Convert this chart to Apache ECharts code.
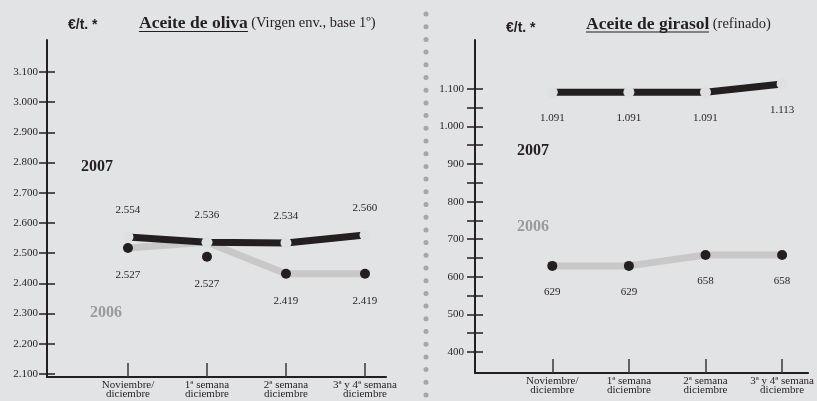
<!DOCTYPE html>
<html>
<head>
<meta charset="utf-8">
<script src="https://cdn.jsdelivr.net/npm/echarts@6/dist/echarts.min.js"></script>
<style>
    html, body { margin: 0; padding: 0; background: #e2e3e5; }
    #chart { width: 817px; height: 401px; }
</style>
</head>
<body>
<div id="chart"></div>
<script>
// categories (x axis)
const categories = ['Noviembre/\ndiciembre', '1ª semana\ndiciembre', '2ª semana\ndiciembre', '3ª y 4ª semana\ndiciembre'];

// aceite de oliva, €/t
const olive2007 = [2554, 2536, 2534, 2560];
const olive2006Line = [2517, 2536, 2432, 2432];   // gray line as drawn
const olive2006Dots = [2517, 2488, 2432, 2432];   // black dots as drawn
const olive2006Labels = [2527, 2527, 2419, 2419]; // printed values

// aceite de girasol, €/t
const sun2007 = [1091, 1091, 1091, 1113];
const sun2006 = [629, 629, 658, 658];

// tick values
const oliveTicks = [2100, 2200, 2300, 2400, 2500, 2600, 2700, 2800, 2900, 3000, 3100];
const sunTicks = [400, 450, 500, 550, 600, 650, 700, 750, 800, 850, 900, 950, 1000, 1050, 1100];
const sunLabels = [400, 500, 600, 700, 800, 900, 1000, 1100];

const INK = '#231f20';
const GRAY_LINE = '#c8c8c8';
const LIGHT_DOT = '#dedfe0';
const GRAY_TEXT = '#9a9a9a';
const SERIF = '"Liberation Serif", "DejaVu Serif", serif';

function fmt(v) {
    return String(v).replace(/\B(?=(\d{3})+(?!\d))/g, '.');
}
function pts(arr) {
    return arr.map((v, i) => [i, v]);
}

const chart = echarts.init(document.getElementById('chart'));

function yAxes(grid, min, max, ticks, labels, mainLabel) {
    return [
        {
            type: 'value', gridIndex: grid, position: 'left', min: min, max: max,
            splitLine: { show: false },
            axisLine: { show: true, onZero: false, lineStyle: { color: INK, width: 2 } },
            axisTick: { show: true, length: 8, customValues: ticks, lineStyle: { color: INK, width: 1.5 } },
            axisLabel: {
                show: true, customValues: labels, margin: mainLabel,
                formatter: v => fmt(v), color: INK, fontFamily: SERIF, fontSize: 11
            }
        },
        {
            type: 'value', gridIndex: grid, position: 'left', offset: 0, min: min, max: max,
            splitLine: { show: false },
            axisLine: { show: false, onZero: false },
            axisTick: { show: true, inside: true, length: 8, customValues: ticks, lineStyle: { color: INK, width: 1.5 } },
            axisLabel: { show: false }
        }
    ];
}

function xAxis(grid, min, max) {
    return {
        type: 'value', gridIndex: grid, min: min, max: max,
        splitLine: { show: false },
        axisLine: { show: true, onZero: false, lineStyle: { color: INK, width: 2 } },
        axisTick: { show: true, inside: true, length: 14, customValues: [0, 1, 2, 3], lineStyle: { color: '#3a3a3a', width: 1.5 } },
        axisLabel: {
            show: true, customValues: [0, 1, 2, 3], margin: 3,
            formatter: v => categories[v], color: INK, fontFamily: SERIF, fontSize: 11, lineHeight: 9.5
        }
    };
}

const labelStyle = { show: true, color: INK, fontFamily: SERIF, fontSize: 11, opacity: 1 };

chart.setOption({
    backgroundColor: '#e2e3e5',
    animation: false,
    grid: [
        { left: 47, top: 40, width: 339, height: 337 },
        { left: 475, top: 40, width: 345, height: 333 }
    ],
    xAxis: [
        xAxis(0, -1.025, 3.266),
        xAxis(1, -1.009, 3.34)
    ],
    yAxis: [
        ...yAxes(0, 2090, 3206, oliveTicks, oliveTicks, 9),
        ...yAxes(1, 344, 1230, sunTicks, sunLabels, 11)
    ],
    series: [
        {
            name: '2006 oliva', type: 'line', xAxisIndex: 0, yAxisIndex: 0,
            data: pts(olive2006Line), showSymbol: false, symbol: 'none',
            lineStyle: { color: GRAY_LINE, width: 7 }, z: 2
        },
        {
            name: '2007 oliva', type: 'line', xAxisIndex: 0, yAxisIndex: 0,
            data: pts(olive2007), symbol: 'circle', symbolSize: 11,
            itemStyle: { color: LIGHT_DOT },
            lineStyle: { color: INK, width: 7 },
            label: { ...labelStyle, position: 'top', distance: 16, formatter: p => fmt(p.value[1]) },
            z: 3
        },
        {
            name: '2006 oliva puntos', type: 'scatter', xAxisIndex: 0, yAxisIndex: 0,
            data: pts(olive2006Dots), symbol: 'circle', symbolSize: 10,
            itemStyle: { color: INK, opacity: 1 },
            label: { ...labelStyle, position: 'bottom', distance: 17, formatter: p => fmt(olive2006Labels[p.dataIndex]) },
            z: 4
        },
        {
            name: '2007 girasol', type: 'line', xAxisIndex: 1, yAxisIndex: 2,
            data: pts(sun2007), symbol: 'circle', symbolSize: 11,
            itemStyle: { color: LIGHT_DOT },
            lineStyle: { color: INK, width: 7 },
            label: { ...labelStyle, position: 'bottom', distance: 15, formatter: p => fmt(p.value[1]) },
            z: 3
        },
        {
            name: '2006 girasol', type: 'line', xAxisIndex: 1, yAxisIndex: 2,
            data: pts(sun2006), symbol: 'circle', symbolSize: 10,
            itemStyle: { color: INK },
            lineStyle: { color: GRAY_LINE, width: 7 },
            label: { ...labelStyle, position: 'bottom', distance: 16, formatter: p => fmt(p.value[1]) },
            z: 3
        }
    ],
    graphic: [
        // dotted divider
        {
            type: 'line', shape: { x1: 426, y1: 14, x2: 426, y2: 405 },
            style: { stroke: '#a6a6a6', lineWidth: 5, lineDash: [0, 12.7], lineCap: 'round' }
        },
        // units
        { type: 'text', x: 68, y: 25, style: { text: '€/t. *', font: 'bold 14px "Liberation Sans", sans-serif', fill: INK, verticalAlign: 'middle' } },
        { type: 'text', x: 506, y: 28, style: { text: '€/t. *', font: 'bold 14px "Liberation Sans", sans-serif', fill: INK, verticalAlign: 'middle' } },
        // titles
        {
            type: 'text', x: 139, y: 23.5,
            style: {
                text: '{a|Aceite de oliva} {b|(Virgen env., base 1º)}', verticalAlign: 'middle',
                rich: {
                    a: { fontFamily: SERIF, fontWeight: 'bold', fontSize: 17.5, fill: INK },
                    b: { fontFamily: SERIF, fontSize: 14.5, fill: INK }
                }
            }
        },
        { type: 'line', shape: { x1: 139, y1: 31.5, x2: 248, y2: 31.5 }, style: { stroke: INK, lineWidth: 1.2 } },
        {
            type: 'text', x: 586, y: 24,
            style: {
                text: '{a|Aceite de girasol} {b|(refinado)}', verticalAlign: 'middle',
                rich: {
                    a: { fontFamily: SERIF, fontWeight: 'bold', fontSize: 17.5, fill: INK },
                    b: { fontFamily: SERIF, fontSize: 14.5, fill: INK }
                }
            }
        },
        { type: 'line', shape: { x1: 586, y1: 32, x2: 709, y2: 32 }, style: { stroke: INK, lineWidth: 1.2 } },
        // year tags
        { type: 'text', x: 81, y: 167, style: { text: '2007', font: 'bold 16px ' + SERIF, fill: INK, verticalAlign: 'middle' } },
        { type: 'text', x: 90, y: 313, style: { text: '2006', font: 'bold 16px ' + SERIF, fill: GRAY_TEXT, verticalAlign: 'middle' } },
        { type: 'text', x: 517, y: 151, style: { text: '2007', font: 'bold 16px ' + SERIF, fill: INK, verticalAlign: 'middle' } },
        { type: 'text', x: 517, y: 227, style: { text: '2006', font: 'bold 16px ' + SERIF, fill: GRAY_TEXT, verticalAlign: 'middle' } }
    ]
});
</script>
</body>
</html>
